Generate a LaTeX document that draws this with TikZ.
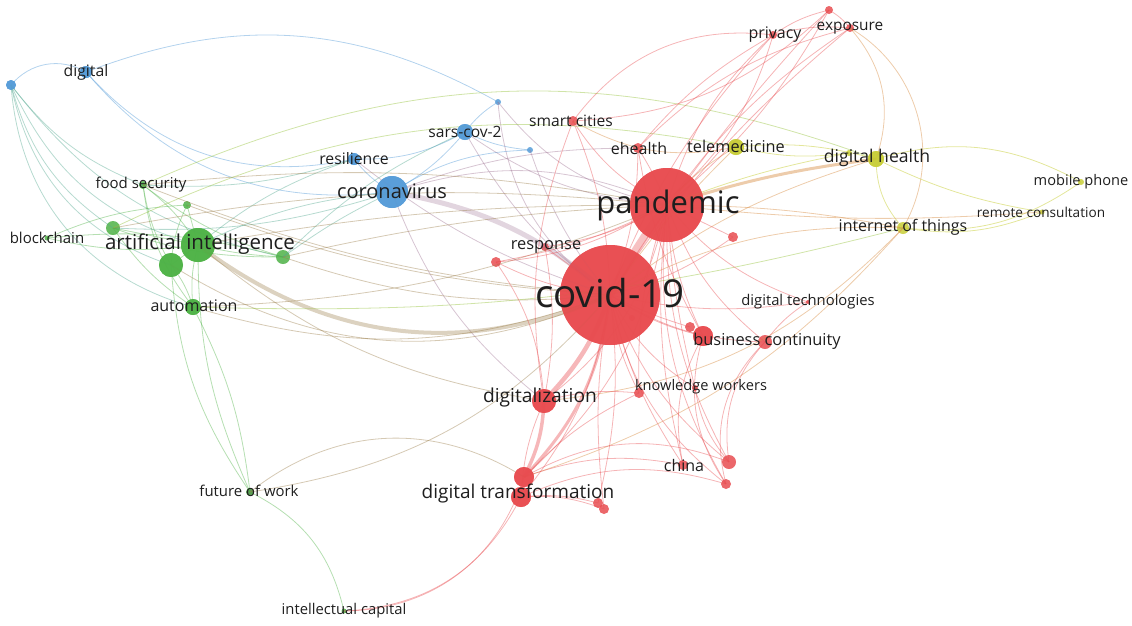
\documentclass[tikz,border=0pt]{standalone}
\usepackage{fontspec}
\setmainfont{Open Sans}
\definecolor{cR}{RGB}{232,76,80}
\definecolor{cG}{RGB}{78,178,70}
\definecolor{cB}{RGB}{86,156,216}
\definecolor{cY}{RGB}{200,206,56}
\definecolor{txt}{RGB}{30,30,30}
\newcommand\nd[4]{\node[circle,inner sep=0pt,minimum size=#3pt,fill=#4,fill opacity=0.85] (#1) at (#2) {};}
\newcommand\lb[4]{\node[lab,font=\fontsize{#3}{#3}\selectfont] (#1) at (#2) {#4};}
\tikzset{
  lab/.style={text=txt,inner sep=0pt,anchor=center},
  % visual bends (y axis is flipped): dn = clockwise, up = counter-clockwise
  dn/.style={bend right=#1},
  up/.style={bend left=#1},
  eR/.style={draw=cR,opacity=0.42,line width=0.8pt},
  eG/.style={draw=cG,opacity=0.42,line width=0.8pt},
  eB/.style={draw=cB,opacity=0.45,line width=0.8pt},
  eY/.style={draw=cY,opacity=0.5,line width=0.8pt},
  eRG/.style={draw=cR!50!cG,opacity=0.42,line width=0.8pt},
  eRB/.style={draw=cR!50!cB,opacity=0.42,line width=0.8pt},
  eRY/.style={draw=cR!50!cY,opacity=0.45,line width=0.8pt},
  eGB/.style={draw=cG!50!cB,opacity=0.42,line width=0.8pt},
  eGY/.style={draw=cG!40!cY,opacity=0.45,line width=0.8pt},
}
\begin{document}
\begin{tikzpicture}[x=1pt,y=-1pt]
\useasboundingbox (0,0) rectangle (1132,625);
% ---------- nodes (circles) ----------
\nd{bL}{11,85}{10}{cB}
\nd{dig}{86,72}{12}{cB}
\nd{res}{354,159}{12}{cB}
\nd{cor}{392,192}{32}{cB}
\nd{sars}{465,132}{16}{cB}
\nd{bA}{498,102}{6}{cB}
\nd{bB}{530,150}{6}{cB}
\nd{fs}{143,185}{8}{cG}
\nd{bc}{47,238}{5}{cG}
\nd{gA}{113,228}{14}{cG}
\nd{gB}{187,205}{8}{cG}
\nd{ai}{198,245}{34}{cG}
\nd{gC}{171,265}{24}{cG}
\nd{gD}{283,257}{14}{cG}
\nd{aut}{193,307}{16}{cG}
\nd{fow}{250,492}{8}{cG!80!black}
\nd{ic}{344,611}{5}{cG}
\nd{sc}{573,121}{10}{cR}
\nd{eh}{638,148}{10}{cR}
\nd{pr}{773,35}{8}{cR}
\nd{rA}{829,10}{8}{cR}
\nd{exp}{850,28}{8}{cR}
\nd{tel}{736,147}{16}{cY}
\nd{yA}{849,153}{6}{cY}
\nd{dh}{876,159}{16}{cY}
\nd{iot}{903,228}{12}{cY}
\nd{mp}{1081,182}{6}{cY}
\nd{rc}{1042,212}{5}{cY}
\nd{pan}{667,205}{74}{cR}
\nd{rB}{733,237}{10}{cR}
\nd{resp}{545,247}{8}{cR}
\nd{rC}{496,262}{10}{cR}
\nd{cov}{610,295}{100}{cR}
\nd{dt}{808,302}{4}{cR}
\nd{rD}{632,318}{6}{cR}
\nd{bcA}{690,327}{10}{cR}
\nd{bcB}{703,336}{20}{cR}
\nd{bcC}{765,342}{14}{cR}
\nd{kw}{639,393}{10}{cR}
\nd{kwB}{695,388}{6}{cR}
\nd{dz}{544,401}{24}{cR}
\nd{ch}{683,465}{10}{cR}
\nd{rE}{729,462}{14}{cR}
\nd{rF}{726,484}{10}{cR}
\nd{dtA}{524,477}{20}{cR}
\nd{dtB}{521,497}{20}{cR}
\nd{rG}{598,503}{10}{cR}
\nd{rH}{604,509}{10}{cR}
% ---------- edges ----------
% blue
\draw[eB] (bL.center) to[up=40] (dig.center);
\draw[eB] (dig.center) to[dn=30] (res.center);
\draw[eB] (dig.center) to[dn=28] (cor.center);
\draw[eB] (dig.center) to[up=25] (bA.center);
\draw[eGB] (bL.center) to[dn=25] (ai.center);
\draw[eGB] (bL.center) to[dn=20] (gA.center);
\draw[eGB] (bL.center) to[dn=30] (gC.center);
\draw[eGB] (bL.center) to[dn=35] (aut.center);
\draw[eGB] (bL.center) to[dn=15] (fs.center);
\draw[eGB] (bL.center) to[dn=20] (gD.center);
\draw[eB] (res.center) to[dn=10] (cor.center);
\draw[eB] (sars.center) to[up=10] (cor.center);
\draw[eB] (sars.center) to[up=15] (res.center);
\draw[eB] (sars.center) to[up=10] (bA.center);
\draw[eB] (sars.center) to[dn=10] (bB.center);
\draw[eB] (cor.center) to[up=15] (bB.center);
\draw[eRB] (sars.center) to[dn=12] (cov.center);
\draw[eRB,line width=5pt,opacity=0.3] (cor.center) to[up=15] (cov.center);
\draw[eRB] (cor.center) to[up=20] (pan.center);
\draw[eRB] (bA.center) to[dn=20] (pan.center);
\draw[eRB] (bB.center) to[dn=10] (cov.center);
\draw[eRB] (cor.center) to[dn=15] (dz.center);
\draw[eRB] (res.center) to[dn=10] (cov.center);
\draw[eRB] (cor.center) to[up=10] (eh.center);
\draw[eRB] (sars.center) to[dn=15] (pan.center);
\draw[eRB] (bA.center) to[dn=25] (cov.center);
\draw[eGB] (res.center) to[dn=10] (ai.center);
\draw[eGB] (cor.center) to[dn=10] (ai.center);
\draw[eGB] (cor.center) to[dn=5] (gD.center);
\draw[eGB] (cor.center) to[up=10] (gA.center);
\draw[eGB] (res.center) to[up=10] (fs.center);
\draw[eGB] (sars.center) to[dn=10] (gD.center);
% green
\draw[eG] (ai.center) to[dn=10] (fs.center);
\draw[eG] (ai.center) to[up=10] (bc.center);
\draw[eG] (ai.center) to (gA.center);
\draw[eG] (ai.center) to (gB.center);
\draw[eG] (ai.center) to (gC.center);
\draw[eG] (ai.center) to[dn=5] (gD.center);
\draw[eG] (ai.center) to[dn=10] (aut.center);
\draw[eG] (gC.center) to[up=10] (aut.center);
\draw[eG] (fs.center) to[dn=10] (gC.center);
\draw[eG] (fs.center) to[dn=15] (aut.center);
\draw[eG] (fs.center) to[dn=10] (gD.center);
\draw[eG] (bc.center) to[up=10] (gD.center);
\draw[eG] (bc.center) to[up=10] (gB.center);
\draw[eG] (gA.center) to[dn=10] (gD.center);
\draw[eG] (gB.center) to[dn=10] (gC.center);
\draw[eG] (aut.center) to[up=10] (fow.center);
\draw[eG] (ai.center) to[dn=12] (fow.center);
\draw[eG] (gC.center) to[dn=15] (fow.center);
\draw[eG] (fow.center) to[up=25] (ic.center);
\draw[eG] (gA.center) to[dn=10] (aut.center);
\draw[eRG,line width=4pt,opacity=0.35] (ai.center) to[dn=30] (cov.center);
\draw[eRG] (gC.center) to[dn=28] (cov.center);
\draw[eRG] (aut.center) to[dn=18] (cov.center);
\draw[eRG] (gD.center) to[dn=12] (cov.center);
\draw[eRG] (gA.center) to[up=8] (pan.center);
\draw[eRG] (fs.center) to[up=8] (pan.center);
\draw[eRG] (fs.center) to[dn=8] (cov.center);
\draw[eRG] (ai.center) to[up=5] (pan.center);
\draw[eRG] (gD.center) to[up=5] (pan.center);
\draw[eRG] (ai.center) to[dn=15] (dz.center);
\draw[eRG] (gB.center) to[dn=8] (cov.center);
\draw[eRG] (aut.center) to[dn=10] (pan.center);
\draw[eRG] (fow.center) to[up=35] (dtA.center);
\draw[eRG] (fow.center) to[dn=20] (cov.center);
\draw[eR] (ic.center) to[dn=30] (dtB.center);
\draw[eR] (ic.center) to[dn=36] (dtA.center);
\draw[eGY] (fs.center) to[up=22] (dh.center);
\draw[eGY] (gA.center) to[up=18] (tel.center);
\draw[eGY] (aut.center) to[dn=8] (iot.center);
% yellow
\draw[eY] (tel.center) to[up=10] (dh.center);
\draw[eRY] (tel.center) to[dn=10] (pan.center);
\draw[eRY] (tel.center) to[dn=5] (cov.center);
\draw[eRY,line width=3pt,opacity=0.45] (dh.center) to[dn=5] (pan.center);
\draw[eRY] (dh.center) to[dn=10] (cov.center);
\draw[eY] (dh.center) to[dn=20] (iot.center);
\draw[eY] (dh.center) to[up=22] (mp.center);
\draw[eY] (dh.center) to[dn=8] (rc.center);
\draw[eY] (iot.center) to[dn=15] (rc.center);
\draw[eY] (iot.center) to[dn=20] (mp.center);
\draw[eRY] (rc.center) to[up=5] (pan.center);
\draw[eRY] (iot.center) to[dn=15] (cov.center);
\draw[eRY] (iot.center) to[dn=5] (pan.center);
\draw[eY] (yA.center) to[dn=5] (pan.center);
\draw[eY] (yA.center) to[up=10] (tel.center);
\draw[eRY] (exp.center) to[up=45] (iot.center);
\draw[eRY] (exp.center) to[up=30] (dh.center);
\draw[eRY] (iot.center) to[up=20] (dz.center);
\draw[eRY] (iot.center) to[up=15] (dtA.center);
\draw[eRY] (tel.center) to[up=20] (sc.center);
% red
\draw[eR,line width=8pt,opacity=0.35] (cov.center) to[up=4] (pan.center);
\draw[eR,line width=4.5pt,opacity=0.4] (cov.center) to[up=12] (dz.center);
\draw[eR,line width=3.5pt,opacity=0.4] (dz.center) to[up=12] (dtA.center);
\draw[eR,line width=3pt,opacity=0.4] (cov.center) to[up=18] (dtA.center);
\draw[eR] (cov.center) to[dn=10] (bcB.center);
\draw[eR] (cov.center) to[dn=5] (bcA.center);
\draw[eR] (cov.center) to[dn=15] (bcC.center);
\draw[eR] (cov.center) to[dn=10] (kw.center);
\draw[eR] (cov.center) to[dn=15] (kwB.center);
\draw[eR] (cov.center) to[dn=10] (ch.center);
\draw[eR] (cov.center) to[dn=15] (rE.center);
\draw[eR] (cov.center) to[dn=20] (rF.center);
\draw[eR] (cov.center) to[up=10] (rG.center);
\draw[eR] (cov.center) to[dn=8] (rH.center);
\draw[eR] (cov.center) to[dn=10] (rB.center);
\draw[eR] (cov.center) to (resp.center);
\draw[eR] (cov.center) to[up=10] (rC.center);
\draw[eR] (cov.center) to[dn=10] (sc.center);
\draw[eR] (cov.center) to[dn=10] (eh.center);
\draw[eR] (cov.center) to[up=10] (pr.center);
\draw[eR] (cov.center) to[up=8] (exp.center);
\draw[eR] (cov.center) to[up=5] (rA.center);
\draw[eR] (cov.center) to[dn=10] (dt.center);
\draw[eR] (cov.center) to (rD.center);
\draw[eR] (pan.center) to[up=15] (pr.center);
\draw[eR] (pan.center) to[up=10] (exp.center);
\draw[eR] (pan.center) to[dn=10] (rA.center);
\draw[eR] (pan.center) to[up=15] (sc.center);
\draw[eR] (pan.center) to[dn=5] (eh.center);
\draw[eR] (pan.center) to[dn=10] (bcB.center);
\draw[eR] (pan.center) to[dn=15] (bcC.center);
\draw[eR] (pan.center) to[dn=15] (rE.center);
\draw[eR] (pan.center) to[up=20] (dz.center);
\draw[eR] (pan.center) to[up=20] (dtA.center);
\draw[eR] (pan.center) to[dn=10] (kw.center);
\draw[eR] (pan.center) to[dn=15] (dt.center);
\draw[eR] (pan.center) to (rB.center);
\draw[eR] (pan.center) to[up=10] (resp.center);
\draw[eR] (pan.center) to[dn=10] (ch.center);
\draw[eR] (pan.center) to[dn=18] (rF.center);
\draw[eR] (pan.center) to[dn=5] (kwB.center);
\draw[eR] (pan.center) to[up=8] (rC.center);
\draw[eR] (pr.center) to[up=10] (exp.center);
\draw[eR] (pr.center) to[up=10] (rA.center);
\draw[eR] (rA.center) to[up=10] (exp.center);
\draw[eR] (sc.center) to[up=30] (pr.center);
\draw[eR] (pr.center) to[up=35] (rC.center);
\draw[eR] (sc.center) to[dn=20] (rA.center);
\draw[eR] (eh.center) to[up=15] (exp.center);
\draw[eR] (eh.center) to[up=10] (pr.center);
\draw[eR] (dtA.center) to[up=25] (rE.center);
\draw[eR] (dtB.center) to[up=20] (rF.center);
\draw[eR] (dtA.center) to[up=15] (ch.center);
\draw[eR] (dtB.center) to[up=10] (rG.center);
\draw[eR] (dtB.center) to[up=12] (rH.center);
\draw[eR] (dtA.center) to[up=10] (kw.center);
\draw[eR] (dz.center) to[dn=15] (rC.center);
\draw[eR] (dz.center) to[dn=10] (resp.center);
\draw[eR] (bcC.center) to[dn=25] (rE.center);
\draw[eR] (bcB.center) to[dn=25] (rF.center);
\draw[eR] (dt.center) to[dn=10] (bcC.center);
\draw[eR] (bcC.center) to[dn=30] (rF.center);
\draw[eR] (dz.center) to[up=10] (kw.center);
\draw[eR] (dz.center) to[dn=10] (dtB.center);
\draw[eR] (cov.center) to[up=15] (dtB.center);
\draw[eR] (eh.center) to[dn=10] (bcB.center);
\draw[eR] (sc.center) to[dn=15] (dz.center);
\draw[eR] (bcB.center) to[dn=20] (ch.center);
\draw[eR] (kwB.center) to[dn=15] (rE.center);
% redraw main nodes on top
\nd{bL2}{11,85}{10}{cB}
\nd{dig2}{86,72}{12}{cB}
\nd{res2}{354,159}{12}{cB}
\nd{cor2}{392,192}{32}{cB}
\nd{sars2}{465,132}{16}{cB}
\nd{ai2}{198,245}{34}{cG}
\nd{gC2}{171,265}{24}{cG}
\nd{aut2}{193,307}{16}{cG}
\nd{pan2}{667,205}{74}{cR}
\nd{cov2}{610,295}{100}{cR}
\nd{dz2}{544,401}{24}{cR}
\nd{dtA2}{524,477}{20}{cR}
\nd{dtB2}{521,497}{20}{cR}
\nd{bcB2}{703,336}{20}{cR}
\nd{tel2}{736,147}{16}{cY}
\nd{dh2}{876,159}{16}{cY}
% ---------- labels ----------
\lb{digL}{86,72}{15.8}{digital}
\lb{fsL}{141,185}{15}{food security}
\lb{bcL}{47,238}{15}{blockchain}
\lb{aiL}{200,244}{20.5}{artificial intelligence}
\lb{autL}{194,306}{16}{automation}
\lb{resL}{354,159}{15.8}{resilience}
\lb{corL}{392,191}{20}{coronavirus}
\lb{sarsL}{465,132}{15.6}{sars-cov-2}
\lb{scL}{571,121}{15.6}{smart cities}
\lb{ehL}{639,148}{16}{ehealth}
\lb{prL}{775,35}{16}{privacy}
\lb{expL}{850,28}{15.4}{exposure}
\lb{telL}{736,146}{16.3}{telemedicine}
\lb{dhL}{877,158}{17.6}{digital health}
\lb{mpL}{1081,182}{14.6}{mobile phone}
\lb{rcL}{1041,212}{13.6}{remote consultation}
\lb{iotL}{903,227}{16}{internet of things}
\lb{panL}{668,205}{31}{pandemic}
\lb{respL}{546,247}{16.4}{response}
\lb{covL}{610,293}{38.5}{covid-19}
\lb{dtL}{808,302}{14.8}{digital technologies}
\lb{bccL}{767,341}{16.4}{business continuity}
\lb{kwL}{701,387}{14.6}{knowledge workers}
\lb{dzL}{540,398}{19.2}{digitalization}
\lb{chL}{684,465}{16}{china}
\lb{dtrL}{518,494}{19}{digital transformation}
\lb{fowL}{249,491}{14.9}{future of work}
\lb{icL}{344,611}{14.8}{intellectual capital}
\end{tikzpicture}
\end{document}
